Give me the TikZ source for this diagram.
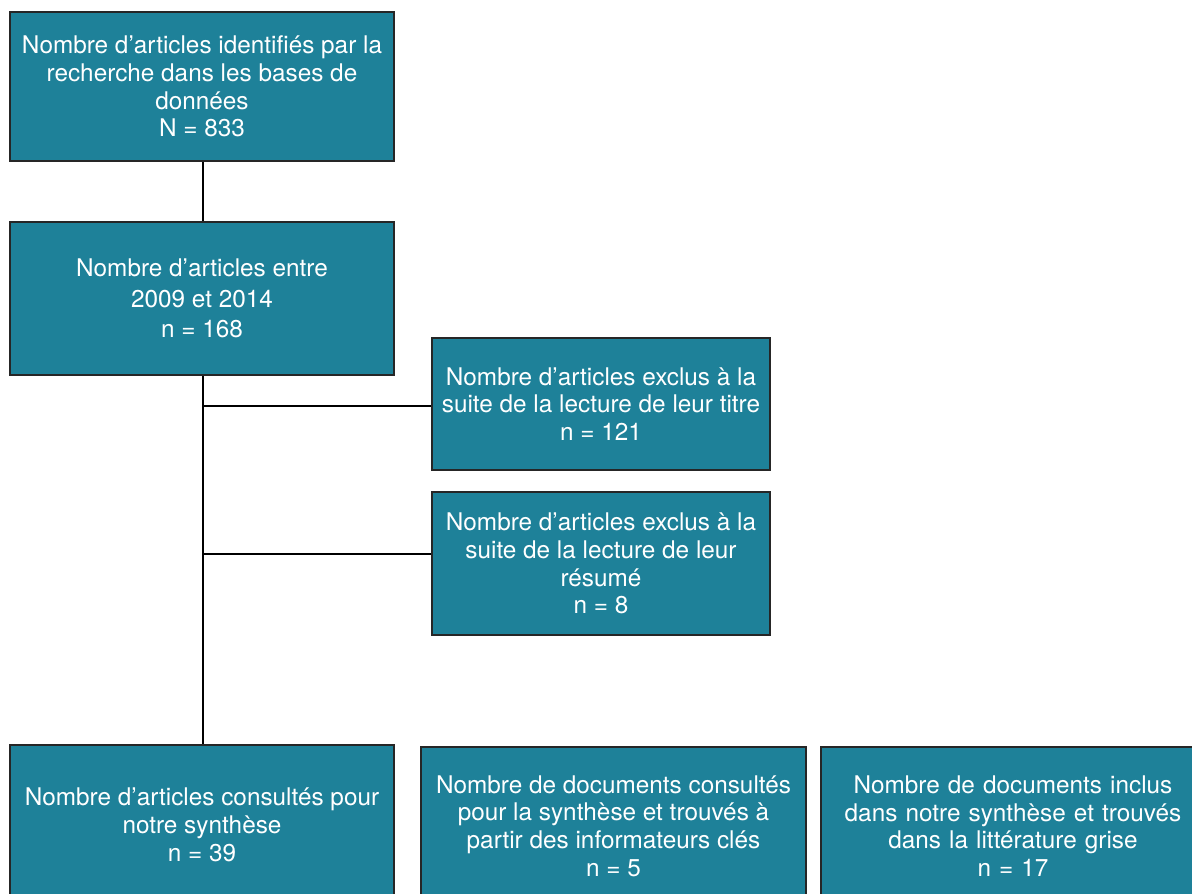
\documentclass[tikz,border=0pt]{standalone}
\usepackage{fontspec}
\setmainfont{TeX Gyre Heros}
\usetikzlibrary{positioning,calc}
\definecolor{tealbox}{HTML}{1E8199}

\begin{document}
\begin{tikzpicture}[x=0.025cm, y=-0.025cm,
  box/.style={rectangle, draw=black!85, line width=0.9pt, fill=tealbox, text=white,
    align=center, font=\fontsize{17.3}{19.7}\selectfont, inner sep=0pt}]
  \useasboundingbox (0,0) rectangle (1192,894);

  % Nodes
  \node[box, minimum width=9.6cm, minimum height=3.725cm] (ident) at (202,86.5)
    {Nombre d’articles identifiés par la\\recherche dans les bases de\\données\\N = 833};
  \node[box, minimum width=9.6cm, minimum height=3.825cm,
    font=\fontsize{17.3}{21.7}\selectfont] (entre) at (202,298.5)
    {Nombre d’articles entre\\2009 et 2014\\n = 168};
  \node[box, minimum width=8.45cm, minimum height=3.3cm] (titre) at (601,404)
    {Nombre d’articles exclus à la\\suite de la lecture de leur titre\\n = 121};
  \node[box, minimum width=8.45cm, minimum height=3.575cm] (resume) at (601,563.5)
    {Nombre d’articles exclus à la\\suite de la lecture de leur\\résumé\\n = 8};
  \node[box, minimum width=9.6cm, minimum height=4cm] (consult) at (202,825)
    {Nombre d’articles consultés pour\\notre synthèse\\n = 39};
  \node[box, minimum width=9.625cm, minimum height=3.95cm] (infor) at (613.5,826)
    {Nombre de documents consultés\\pour la synthèse et trouvés à\\partir des informateurs clés\\n = 5};
  \node[box, minimum width=9.9cm, minimum height=3.95cm, text width=9.5cm] (grise) at (1019,826)
    {\hspace*{-0.3cm}Nombre de documents inclus\\\hspace*{-0.3cm}dans notre synthèse et trouvés\\\hspace*{-0.3cm}dans la littérature grise\\\hspace*{-0.3cm}n = 17};

  \coordinate (j1) at (203,406);
  \coordinate (j2) at (203,554);

  % Edges
  \draw[line width=0.8pt] (ident.south -| j1) -- (entre.north -| j1);
  \draw[line width=0.8pt] (entre.south -| j1) -- (consult.north -| j1);
  \draw[line width=0.8pt] (j1) -- (titre.west |- j1);
  \draw[line width=0.8pt] (j2) -- (resume.west |- j2);
\end{tikzpicture}
\end{document}
